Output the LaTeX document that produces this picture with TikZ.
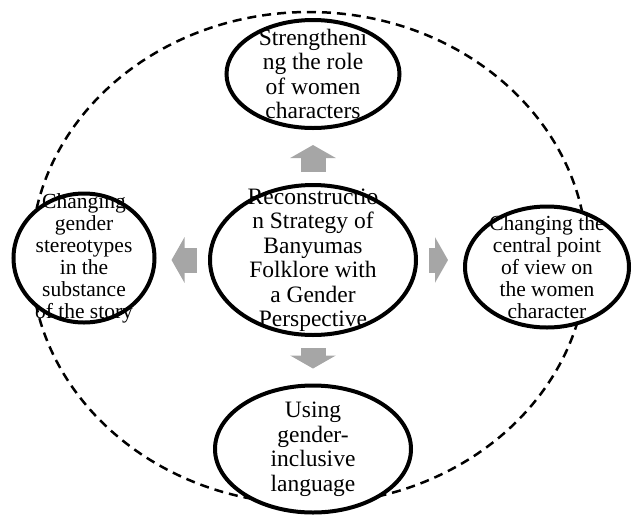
\documentclass[tikz,border=0pt]{standalone}
\usepackage{fontspec}
\setmainfont{Liberation Serif}
\usepackage{tikz}
\usetikzlibrary{shapes.geometric, arrows.meta}

\definecolor{arrowgray}{HTML}{A6A6A6}

\begin{document}
\begin{tikzpicture}[x=1pt, y=-1pt,
    bubble/.style={ellipse, draw=black, line width=4pt, fill=white, inner sep=0pt},
    bigtext/.style={align=center, inner sep=0pt, font=\fontsize{23.5pt}{24.5pt}\selectfont},
    smalltext/.style={align=center, inner sep=0pt, font=\fontsize{21.5pt}{22pt}\selectfont},
    blockarrow/.style={draw=arrowgray, line width=25pt, -{Triangle[length=13pt, width=45pt]}, shorten <=11pt, shorten >=15pt}]
  \useasboundingbox (0,0) rectangle (632,515);
  % outer dashed ring
  \draw[line width=2.5pt, dash pattern=on 9pt off 6pt] (309,258) ellipse [x radius=278pt, y radius=246pt];
  % ellipses
  \node[bubble, minimum width=206pt, minimum height=150pt] (mid) at (313,260) {};
  \node[bubble, minimum width=173pt, minimum height=108pt] (top) at (313,74) {};
  \node[bubble, minimum width=141pt, minimum height=129pt] (left) at (84,258) {};
  \node[bubble, minimum width=164pt, minimum height=121pt] (right) at (547,267) {};
  \node[bubble, minimum width=196pt, minimum height=127pt] (bottom) at (313,449) {};
  % texts
  \node[bigtext] (midText) at (mid) {Reconstructio\\n Strategy of\\Banyumas\\Folklore with\\a Gender\\Perspective};
  \node[bigtext] (topText) at (top) {Strengtheni\\ng the role\\of women\\characters};
  \node[smalltext] (leftText) at (left) {Changing\\gender\\stereotypes\\in the\\substance\\of the story};
  \node[smalltext] (rightText) at (right) {Changing the\\central point\\of view on\\the women\\character};
  \node[bigtext] (bottomText) at (bottom) {Using\\gender-\\inclusive\\language};
  % block arrows
  \draw[blockarrow] (mid.north) -- (top.south);
  \draw[blockarrow] (mid.west) -- (mid.west -| left.east);
  \draw[blockarrow] (mid.east) -- (mid.east -| right.west);
  \draw[blockarrow] (mid.south) -- (bottom.north);
\end{tikzpicture}
\end{document}
